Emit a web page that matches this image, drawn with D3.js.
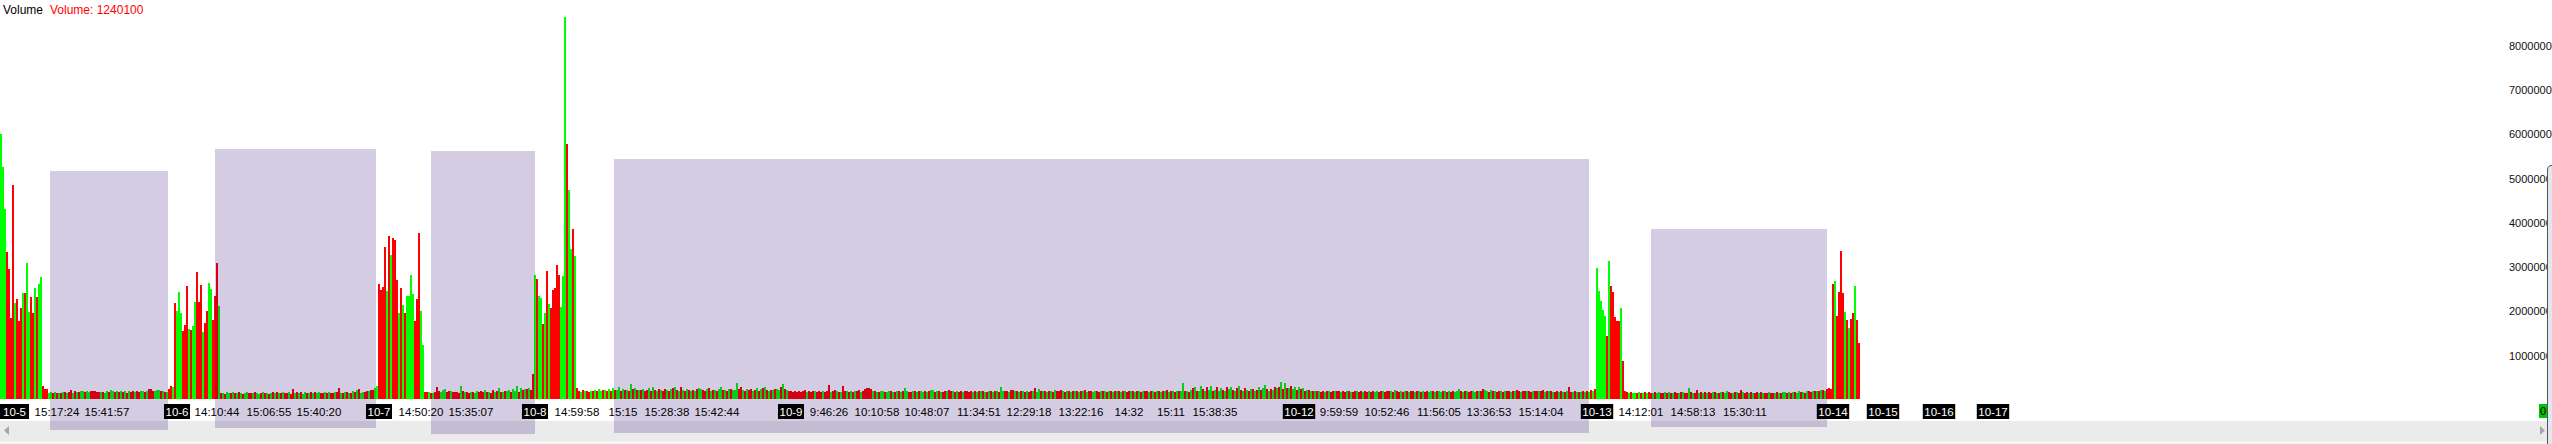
<!DOCTYPE html>
<html>
<head>
<meta charset="utf-8">
<script src="https://cdn.jsdelivr.net/npm/d3@7/dist/d3.min.js"></script>
<style>
body { margin: 0; background: #fff; overflow: hidden; }
text { font-family: "Liberation Sans", Arial, sans-serif; }
</style>
</head>
<body>
<svg id="chart" width="2552" height="444"></svg>
<script>
// volume per bar in units of 100,000 shares, negative = down bar (red)
var vol1005 = [598,524,429,-332,-293,-183,-483,217,-226,-175,-206,239,-239,306,196,-230,-194,251,-230,260,275,
  -29,-23,-22,13,
  15,-13,16,-14,14,-13,15,-16,14,-15,-20,14,-17,15,-16,19,17,-15,18,16,-17,-17,-17,-16,-15,15,-16,14,17,-15,
  20,19,-16,18,-15,17,-16,19,-14,17,-15,-18,16,-17,-15,18,19,-16,17,-22,-22,-17,19,20,20,-18,17,-15,16,
  -22,-29,26];
var vol1006 = [-217,199,242,195,-153,-167,-255,158,-156,165,219,-287,-219,-258,151,-172,-199,262,248,-178,-233,-307,210,
  -13,14,-12,15,14,-13,15,-14,13,-15,14,-12,13,15,-14,-13,14,-15,13,12,
  -14,15,-13,14,-12,13,-16,14,-15,13,-14,15,-13,-14,16,-12,-23,14,-15,13,
  -16,12,15,-14,13,-15,14,-16,13,15,-14,-13,16,-14,15,-13,-14,16,-15,-24,
  14,-13,15,-16,14,-13,17,-15,21,-22,14,16,-15,-18,17,-21,-20,25];
var vol1007 = [29,
  -260,-246,-253,-343,244,-368,325,-363,-360,-269,194,-251,212,-194,233,233,280,237,-176,-226,-375,199,122,
  -16,-15,15,-14,13,-16,-26,-17,16,20,22,-16,-18,17,-15,-16,-15,-14,29,-17,
  15,-16,-14,16,-15,14,17,-16,-18,-15,21,-16,15,-14,-20,16,-17,24,-15,16,
  -17,18,20,-16,22,17,29,-15,25,-20,23,-22,24,-21,-56];
var vol1008 = [280,-271,232,228,-169,194,-289,214,-205,-246,-250,-302,-280,208,277,862,-575,471,338,-383,323,
  -25,-18,16,-20,17,-19,-16,18,-17,20,-19,23,
  18,-21,20,-17,22,-19,24,-20,21,28,-19,22,-21,20,-18,34,-22,25,-20,21,
  -20,22,-19,-21,24,-18,27,-20,19,-22,21,-19,-23,20,-18,22,-25,26,-20,19,
  -27,21,-19,22,-20,18,-21,19,-22,24,23,-20,-19,22,-24,18,-20,21,-19,22,
  26,-21,20,-19,22,-23,21,20,36,-22,-27,21,-19,23,-20,-22,19,-21,24,-18,
  22,-25,27,-20,19,-21,20,-22,23,21,-26,34,-22,20,-19];
var vol1009 = [-17,-15,-18,-16,-19,-15,-17,-20,16,-18,-15,-17,19,-16,-18,-15,17,-16,-19,-32,
  16,-18,-20,17,-15,16,-29,-18,17,-16,19,-15,18,-17,-20,16,-18,-22,-25,-24,
  -23,17,-19,16,-15,18,17,-16,16,17,-18,15,-16,17,-19,16,-18,25,17,-16,
  -15,18,-17,16,-19,17,15,-18,16,-17,20,21,-16,17,-19,16,-15,-18,17,-20,
  -19,17,-16,18,-15,-17,16,-18,-17,-16,-18,15,-17,16,-19,17,-18,16,-15,17,
  -18,16,-17,19,-16,26,18,-17,-19,16,-20,-21,17,-18,16,-19,17,-15,18,-16,
  -17,19,-25,16,23,-18,17,-19,16,-17,18,-16,21,-17,-19,-20,18,-16,17,-18,
  16,-17,19,-18,15,-17,18,-20,16,-17,-19,16,18,-17,-16,19,-18,17,-16,18,
  -17,16,-18,17,-19,16,-17,18,-16,-19,17,-18,16,-17,19,-16,18,-17,-19,16,
  -17,18,-16,17,-19,16,-18,17,-20,16,-17,18,-16,17,-18,19,35,-17,18,-16,
  20,-24,28,-19,17,30,-22,18,-26,21,29,-18,20,-27,19,25,-21,18,-28,22,
  27,-20,19,-24,30,-21,18,-25,20,-19,23,-22,19,-20,26,-21,24,32,-22,19,
  -23,21,-26,24,-27,38,-22,36,-25,24,-30,23,28,-21];
var vol1012 = [26,-22,24,-19,21,-20,18,-17,19,-18,17,-16,-18,16,-17,19,-16,-18,17,-19,
  -17,16,-18,-16,17,-19,16,-15,-17,18,-16,-17,15,-18,-16,17,-15,-17,16,18,
  -16,-18,17,-16,-19,-17,18,-16,20,-17,-16,18,-15,17,-19,16,-17,-18,16,-17,
  18,-16,17,-15,-18,16,19,-17,16,-18,17,16,-19,18,-16,17,-15,-18,16,17,
  22,-17,16,-18,17,-16,-19,17,16,-18,19,-17,-22,20,18,-16,21,-17,19,-16,
  -18,17,-16,18,-19,-17,16,-18,17,-20,-18,16,-17,-19,18,-17,-16,17,-18,-19,
  17,-18,-20,16,-19,17,-18,16,-15,-17,16,-18,15,-16,17,-27,-16,15,-17,16,
  -15,16,-17,15,-18,16,-20,17,-23];
var vol1013 = [296,244,221,201,187,-142,311,-255,-241,-185,-176,-176,205,
  -86,-18,-16,14,-15,13,14,-13,15,-14,13,-16,14,-15,
  -14,13,-15,14,16,-14,-13,15,-14,16,-13,14,-15,-14,13,-16,15,-14,-13,25,
  -15,14,-13,-20,14,-15,13,-16,14,-15,-14,16,-15,13,-14,15,-16,14,19,-15,
  -14,13,-15,16,-14,-20,15,-14,-16,13,-15,14,-13,-16,14,-15,13,-14,-13,15,
  -14,-13,14,-15,13,-14,15,16,-14,15,-13,16,-15,14,17,-15,16,-14,17,-18,
  -16,18,-17,19,-18,20,-21,17,-23,-25,-23];
var vol1014 = [-259,266,-187,-241,-334,-239,196,-178,160,-180,-194,255,-178,-126];

var sessions = [vol1005, vol1006, vol1007, vol1008, vol1009, vol1012, vol1013, vol1014];

// date ticks (black boxes) and the bar slot they sit on
var dateTicks = ["10-5","10-6","10-7","10-8","10-9","10-12","10-13","10-14","10-15","10-16","10-17"];
var dateTickAt = [0, 88, 189, 267, 395, 649, 798, 916, 941, 969, 996];

var timeTicks = ["15:17:24","15:41:57","14:10:44","15:06:55","15:40:20","14:50:20","15:35:07","14:59:58","15:15",
  "15:28:38","15:42:44","9:46:26","10:10:58","10:48:07","11:34:51","12:29:18","13:22:16","14:32","15:11","15:38:35",
  "9:59:59","10:52:46","11:56:05","13:36:53","15:14:04","14:12:01","14:58:13","15:30:11"];
var timeTickAt = [28,53,108,134,159,210,235,288,311,333,358,414,438,463,489,514,540,564,585,607,669,693,719,744,770,820,846,872];

// shaded zones: bar slot range and volume range
var zoneFrom = [25, 107.5, 215.5, 307, 825.5];
var zoneTo = [84, 188, 267.5, 794.5, 913.5];
var zoneHigh = [51.4e6, 56.4e6, 55.9e6, 54.1e6, 38.3e6];
var zoneLow = [-7.0e6, -6.5e6, -7.9e6, -7.7e6, -6.3e6];

var yTicks = [10e6, 20e6, 30e6, 40e6, 50e6, 60e6, 70e6, 80e6];

var bars = [];
sessions.forEach(function(s) {
  s.forEach(function(v) {
    bars.push({ i: bars.length, v: Math.abs(v) * 1e5, up: v > 0 });
  });
});

var svg = d3.select("#chart");
var W = 2552, H = 444;

var x = d3.scaleLinear().domain([0, 1276]).range([0, W]);
var y = d3.scaleLinear().domain([0, 90e6]).range([399, 0.4]);
var bw = x(1) - x(0);

svg.append("rect").attr("width", W).attr("height", H).attr("fill", "#fff");

// scrollbar strip
svg.append("rect").attr("x", 0).attr("y", 421).attr("width", W).attr("height", 20).attr("fill", "#ebebeb");
svg.append("rect").attr("x", 0).attr("y", 441).attr("width", W).attr("height", 3).attr("fill", "#f4f4f4");
svg.append("path").attr("d", "M9,426L4,430.5L9,435Z").attr("fill", "#a6a6a6");
svg.append("path").attr("d", "M2540,426L2545,430.5L2540,435Z").attr("fill", "#a6a6a6");

svg.append("g").selectAll("rect").data(bars).enter().append("rect")
  .attr("x", function(d) { return x(d.i); })
  .attr("y", function(d) { return y(d.v); })
  .attr("width", bw)
  .attr("height", function(d) { return y(0) - y(d.v); })
  .attr("fill", function(d) { return d.up ? "#00ff00" : "#ff0000"; })
  .attr("shape-rendering", "crispEdges");

svg.append("g").selectAll("rect").data(zoneFrom).enter().append("rect")
  .attr("x", function(d) { return x(d); })
  .attr("width", function(d, k) { return x(zoneTo[k]) - x(d); })
  .attr("y", function(d, k) { return y(zoneHigh[k]); })
  .attr("height", function(d, k) { return y(zoneLow[k]) - y(zoneHigh[k]); })
  .attr("fill", "rgb(40,0,110)")
  .attr("fill-opacity", 0.2)
  .attr("shape-rendering", "crispEdges");

// time labels
svg.append("g").selectAll("text").data(timeTicks).enter().append("text")
  .attr("x", function(d, k) { return x(timeTickAt[k]) + bw / 2; })
  .attr("y", 416)
  .attr("text-anchor", "middle")
  .attr("font-size", "11.5px")
  .attr("fill", "#000")
  .text(function(d) { return d; });

// date labels in black boxes
var dg = svg.append("g").selectAll("g").data(dateTicks).enter().append("g");
dg.append("rect").attr("fill", "#000");
dg.append("text")
  .attr("y", 416)
  .attr("text-anchor", "middle")
  .attr("font-size", "11.5px")
  .attr("fill", "#fff")
  .text(function(d) { return d; });
dg.each(function(d, k) {
  var g = d3.select(this);
  var tw = g.select("text").node().getComputedTextLength();
  var w = tw + 3;
  var cx = x(dateTickAt[k]) + bw / 2;
  var left = cx - w / 2;
  if (left < 0) { left = 0; w += 3; }
  g.select("rect").attr("x", left).attr("y", 404).attr("width", w).attr("height", 15);
  g.select("text").attr("x", left + w / 2);
});

// y axis labels on the right (cut by the window edge, as in the source)
svg.append("g").selectAll("text").data(yTicks).enter().append("text")
  .attr("x", 2509)
  .attr("y", function(d) { return y(d) + 5; })
  .attr("font-size", "11px")
  .attr("fill", "#111")
  .text(function(d) { return d3.format("d")(d); });

// current value tag
svg.append("rect").attr("x", 2539).attr("y", 404).attr("width", 9).attr("height", 14).attr("fill", "#00c400");
svg.append("text").attr("x", 2540).attr("y", 415).attr("font-size", "11px").attr("fill", "#000").text("0");

// panel border at the far right
svg.append("path").attr("d", "M2548,444V170Q2548,165.5 2552,165.5V444Z").attr("fill", "#dfe7f1");
svg.append("path").attr("d", "M2547.5,444V170Q2547.5,165.5 2552,165.5").attr("fill", "none").attr("stroke", "#555");

// title
svg.append("text").attr("x", 3).attr("y", 14).attr("font-size", "12px").attr("fill", "#000").text("Volume");
svg.append("text").attr("x", 50).attr("y", 14).attr("font-size", "12px").attr("fill", "#ff0000").text("Volume: 1240100");
</script>
</body>
</html>
